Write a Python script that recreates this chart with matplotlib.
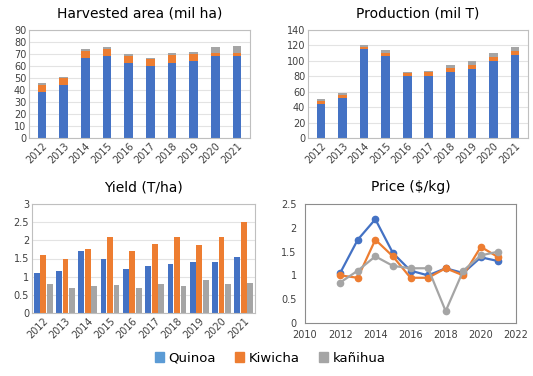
import numpy as np
import matplotlib.pyplot as plt

years = [2012, 2013, 2014, 2015, 2016, 2017, 2018, 2019, 2020, 2021]
names = ['Quinoa', 'Kiwicha', 'kañihua']

# harvested area (mil ha), stacked
area_quinoa = [38, 44.5, 67, 68.5, 62.5, 60, 62.5, 64, 68, 68]
area_kiwicha = [6.5, 5.5, 5.5, 5.5, 6, 6, 7, 6, 2.5, 2.5]
area_kanihua = [1.5, 1, 1.5, 2, 1.5, 1, 1.5, 2, 5.5, 6.5]

# production (mil T), stacked
prod_quinoa = [44, 52, 115, 106, 80, 80, 86, 90, 100, 107]
prod_kiwicha = [4, 4, 3, 4, 4, 5, 5, 5, 5, 6]
prod_kanihua = [3, 2, 3, 4, 2, 2, 3, 5, 5, 5]

# yield (T/ha)
yield_quinoa = [1.1, 1.15, 1.7, 1.5, 1.2, 1.3, 1.35, 1.4, 1.4, 1.55]
yield_kiwicha = [1.6, 1.5, 1.75, 2.1, 1.7, 1.9, 2.08, 1.88, 2.1, 2.5]
yield_kanihua = [0.8, 0.7, 0.75, 0.78, 0.7, 0.8, 0.75, 0.9, 0.8, 0.83]

# price ($/kg)
price_quinoa = [1.05, 1.75, 2.18, 1.47, 1.1, 1.0, 1.15, 1.05, 1.38, 1.3]
price_kiwicha = [1.0, 0.95, 1.75, 1.4, 0.95, 0.95, 1.15, 1.0, 1.6, 1.38]
price_kanihua = [0.85, 1.1, 1.4, 1.2, 1.15, 1.15, 0.25, 1.1, 1.42, 1.5]

colors = ['#4472C4', '#ED7D31', '#A5A5A5']
tick_col = '#404040'

W, H = 533, 376
fig = plt.figure(figsize=(W / 100, H / 100), dpi=100)


def rect(x0, y0, x1, y1):
    # pixel box -> figure coords
    return [x0 / W, 1 - y1 / H, (x1 - x0) / W, (y1 - y0) / H]


def style(ax, grid=True, edge='#BFBFBF'):
    for s in ax.spines.values():
        s.set_color(edge)
        s.set_linewidth(0.8)
    ax.tick_params(length=0, labelsize=7, colors=tick_col, pad=2)
    if grid:
        ax.yaxis.grid(True, color='#E3E3E3', linewidth=0.8)
        ax.set_axisbelow(True)


def stacked(ax, parts, ymax, step, title):
    x = np.arange(len(years))
    bottom = np.zeros(len(years))
    for vals, c in zip(parts, colors):
        ax.bar(x, vals, 0.4, bottom=bottom, color=c)
        bottom += np.array(vals)
    ax.set_xlim(-0.6, len(years) - 0.4)
    ax.set_ylim(0, ymax)
    ax.set_yticks(np.arange(0, ymax + 1, step))
    ax.set_xticks(x)
    ax.set_xticklabels(years, rotation=45, ha='right', rotation_mode='anchor')
    ax.set_title(title, fontsize=10, pad=9)
    style(ax)


ax1 = fig.add_axes(rect(29, 30, 250, 138))
stacked(ax1, [area_quinoa, area_kiwicha, area_kanihua], 90, 10, 'Harvested area (mil ha)')

ax2 = fig.add_axes(rect(308, 30, 528, 138))
stacked(ax2, [prod_quinoa, prod_kiwicha, prod_kanihua], 140, 20, 'Production (mil T)')

ax3 = fig.add_axes(rect(32, 204, 255, 313))
x = np.arange(len(years))
for i, (vals, c) in enumerate(zip([yield_quinoa, yield_kiwicha, yield_kanihua], colors)):
    ax3.bar(x + (i - 1) * 0.29, vals, 0.26, color=c)
ax3.set_xlim(-0.5, len(years) - 0.5)
ax3.set_ylim(0, 3)
ax3.set_yticks([0, 0.5, 1, 1.5, 2, 2.5, 3])
ax3.set_yticklabels(['0', '0.5', '1', '1.5', '2', '2.5', '3'])
ax3.set_xticks(x)
ax3.set_xticklabels(years, rotation=45, ha='right', rotation_mode='anchor')
ax3.set_title('Yield (T/ha)', fontsize=10, pad=9)
style(ax3)

ax4 = fig.add_axes(rect(305, 204, 516, 323))
for vals, c in zip([price_quinoa, price_kiwicha, price_kanihua], colors):
    ax4.plot(years, vals, color=c, linewidth=1.6, marker='o', markersize=4.5)
ax4.set_xlim(2010, 2022)
ax4.set_xticks(range(2010, 2023, 2))
ax4.set_ylim(0, 2.5)
ax4.set_yticks([0, 0.5, 1, 1.5, 2, 2.5])
ax4.set_yticklabels(['0', '0.5', '1', '1.5', '2', '2.5'])
ax4.set_title('Price ($/kg)', fontsize=10, pad=9)
style(ax4, grid=False, edge='#8C8C8C')
ax4.tick_params(axis='x', pad=5)
ax4.tick_params(axis='y', pad=6)

handles = [plt.Rectangle((0, 0), 1, 1, color=c) for c in ['#5B9BD5', colors[1], colors[2]]]
fig.legend(handles, names, loc='center', bbox_to_anchor=(270 / W, 1 - 358 / H), ncol=3,
           frameon=False, fontsize=9.5, handlelength=0.7, handleheight=0.7,
           handletextpad=0.3, columnspacing=1.5)

fig.savefig('out.png', dpi=100, facecolor='white')
